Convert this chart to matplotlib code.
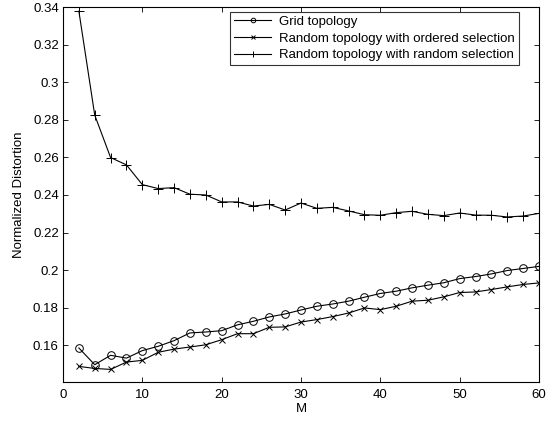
import numpy as np
import matplotlib
matplotlib.use('Agg')
import matplotlib.pyplot as plt

M = np.arange(2, 61, 2)

grid_topology = [0.1586, 0.1497, 0.1547, 0.1532, 0.1572, 0.1595, 0.1625, 0.1666,
                 0.1671, 0.1678, 0.1709, 0.1728, 0.1751, 0.1767, 0.1788, 0.1808,
                 0.1820, 0.1835, 0.1856, 0.1876, 0.1888, 0.1906, 0.1920, 0.1933,
                 0.1955, 0.1966, 0.1980, 0.1998, 0.2009, 0.2020]

random_ordered = [0.1488, 0.1477, 0.1472, 0.1511, 0.1520, 0.1563, 0.1580, 0.1591,
                  0.1603, 0.1630, 0.1662, 0.1662, 0.1696, 0.1698, 0.1724, 0.1737,
                  0.1753, 0.1772, 0.1799, 0.1790, 0.1808, 0.1835, 0.1840, 0.1858,
                  0.1881, 0.1884, 0.1897, 0.1911, 0.1924, 0.1932]

random_random = [0.3378, 0.2825, 0.2599, 0.2560, 0.2455, 0.2434, 0.2439, 0.2404,
                 0.2400, 0.2363, 0.2363, 0.2341, 0.2350, 0.2320, 0.2357, 0.2329,
                 0.2334, 0.2315, 0.2295, 0.2292, 0.2306, 0.2313, 0.2297, 0.2290,
                 0.2304, 0.2293, 0.2292, 0.2283, 0.2288, 0.2302]

labels = ['Grid topology',
          'Random topology with ordered selection',
          'Random topology with random selection']

plt.rcParams['font.family'] = ['Liberation Sans', 'DejaVu Sans']
plt.rcParams['font.size'] = 9.5

fig = plt.figure(figsize=(5.59, 4.22), dpi=100)
ax = fig.add_axes([0.1127, 0.0948, 0.8515, 0.8886])

ax.plot(M, grid_topology, color='black', lw=0.8, marker='o', ms=5.5,
        mfc='none', mew=0.7, label=labels[0])
ax.plot(M, random_ordered, color='black', lw=0.8, marker='x', ms=4.5,
        mew=0.7, label=labels[1])
ax.plot(M, random_random, color='black', lw=0.8, marker='+', ms=6.5,
        mew=0.7, label=labels[2])

ax.set_xlim(0, 60)
ax.set_ylim(0.1405, 0.34)
ax.set_xticks(np.arange(0, 61, 10))
yt = np.arange(0.16, 0.341, 0.02)
ax.set_yticks(yt)
ax.set_yticklabels(['%g' % round(v, 2) for v in yt])
ax.tick_params(direction='in', top=True, right=True, length=3.5, width=0.6,
               labelsize=9.5)
ax.tick_params(axis='x', pad=5)
ax.tick_params(axis='y', pad=3)
for s in ax.spines.values():
    s.set_linewidth(0.8)

ax.set_xlabel('M', labelpad=1.5)
ax.set_ylabel('Normalized Distortion', labelpad=6)

leg = ax.legend(loc='upper right', bbox_to_anchor=(0.958, 0.987),
                borderaxespad=0, fancybox=False, edgecolor='black',
                handlelength=2.8, markerscale=0.6, labelspacing=0.33,
                borderpad=0.3, handletextpad=0.6)
leg.get_frame().set_linewidth(0.8)

plt.savefig('out.png', dpi=100)
